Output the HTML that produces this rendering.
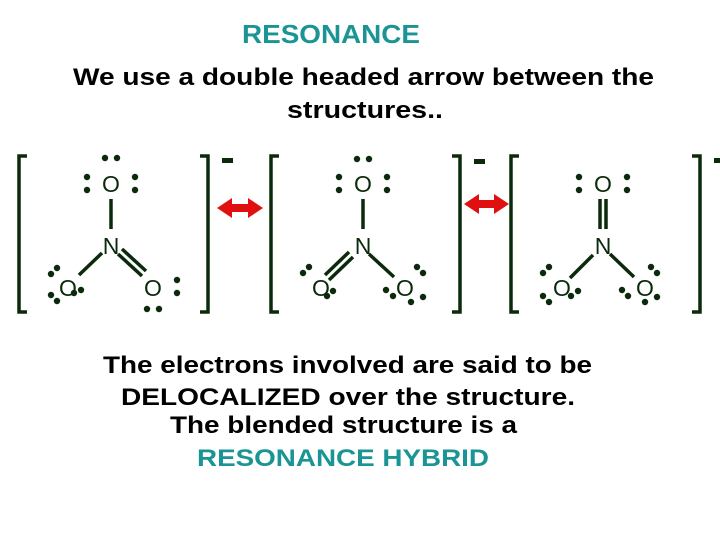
<!DOCTYPE html>
<html><head><meta charset="utf-8"><style>
html,body{margin:0;padding:0;background:#fff;}
svg{display:block;}
text{font-family:"Liberation Sans",Arial,sans-serif;}
</style></head><body>
<svg width="720" height="540" viewBox="0 0 720 540" xmlns="http://www.w3.org/2000/svg">
<text x="242" y="43" font-size="26" font-weight="bold" fill="#1a9494" textLength="178" lengthAdjust="spacingAndGlyphs">RESONANCE</text>
<text x="73" y="85" font-size="24" font-weight="bold" fill="#000" textLength="581" lengthAdjust="spacingAndGlyphs">We use a double headed arrow between the</text>
<text x="287" y="118" font-size="24" font-weight="bold" fill="#000" textLength="156" lengthAdjust="spacingAndGlyphs">structures..</text>

<g stroke="#0b2a0b" stroke-width="3.5" fill="none">
<path d="M27,156 H19 V312 H27"/><path d="M200,156 H208 V312 H200"/>
<path d="M279,156 H271 V312 H279"/><path d="M452,156 H460 V312 H452"/>
<path d="M519,156 H511 V312 H519"/><path d="M692,156 H700 V312 H692"/>
</g>
<g fill="#0b2a0b">
<rect x="222" y="158" width="11" height="5"/>
<rect x="474" y="159" width="11" height="5"/>
<rect x="714" y="158" width="6" height="5"/>
</g>
<g fill="#e01010">
<path d="M217,208 L232,198 L232,204 L248,204 L248,198 L263,208 L248,218 L248,212 L232,212 L232,218 Z"/>
<path d="M464,204 L479,194 L479,200 L494,200 L494,194 L509,204 L494,214 L494,208 L479,208 L479,214 Z"/>
</g>

<g font-size="23" fill="#0b2a0b">
<text x="111" y="192" text-anchor="middle">O</text>
<text x="111" y="254" text-anchor="middle">N</text>
<text x="68" y="296" text-anchor="middle">O</text>
<text x="153" y="296" text-anchor="middle">O</text>
<text x="363" y="192" text-anchor="middle">O</text>
<text x="363" y="254" text-anchor="middle">N</text>
<text x="321" y="296" text-anchor="middle">O</text>
<text x="405" y="296" text-anchor="middle">O</text>
<text x="603" y="192" text-anchor="middle">O</text>
<text x="603" y="254" text-anchor="middle">N</text>
<text x="562" y="296" text-anchor="middle">O</text>
<text x="645" y="296" text-anchor="middle">O</text>
</g>

<g stroke="#0b2a0b" stroke-width="3.5">
<line x1="111" y1="199" x2="111" y2="229"/>
<line x1="102" y1="253" x2="79" y2="275"/>
<line x1="122" y1="249" x2="146" y2="271"/>
<line x1="118" y1="254" x2="142" y2="276"/>
<line x1="363" y1="199" x2="363" y2="229"/>
<line x1="349" y1="252" x2="325" y2="275"/>
<line x1="353" y1="257" x2="329" y2="280"/>
<line x1="369" y1="254" x2="394" y2="277"/>
<line x1="600" y1="199" x2="600" y2="229"/>
<line x1="606" y1="199" x2="606" y2="229"/>
<line x1="593" y1="255" x2="570" y2="278"/>
<line x1="610" y1="254" x2="634" y2="277"/>
</g>

<g fill="#0b2a0b">
<circle cx="105" cy="158" r="3.2"/><circle cx="117" cy="158" r="3.2"/>
<circle cx="87" cy="177" r="3.2"/><circle cx="87" cy="190" r="3.2"/>
<circle cx="135" cy="177" r="3.2"/><circle cx="135" cy="190" r="3.2"/>
<circle cx="51" cy="274" r="3.2"/><circle cx="57" cy="268" r="3.2"/>
<circle cx="51" cy="295" r="3.2"/><circle cx="57" cy="301" r="3.2"/>
<circle cx="74" cy="293" r="3.2"/><circle cx="81" cy="290" r="3.2"/>
<circle cx="177" cy="280" r="3.2"/><circle cx="177" cy="293" r="3.2"/>
<circle cx="147" cy="309" r="3.2"/><circle cx="159" cy="309" r="3.2"/>
<circle cx="357" cy="159" r="3.2"/><circle cx="369" cy="159" r="3.2"/>
<circle cx="339" cy="177" r="3.2"/><circle cx="339" cy="190" r="3.2"/>
<circle cx="387" cy="177" r="3.2"/><circle cx="387" cy="190" r="3.2"/>
<circle cx="303" cy="273" r="3.2"/><circle cx="309" cy="267" r="3.2"/>
<circle cx="327" cy="296" r="3.2"/><circle cx="333" cy="291" r="3.2"/>
<circle cx="386" cy="290" r="3.2"/><circle cx="393" cy="296" r="3.2"/>
<circle cx="417" cy="267" r="3.2"/><circle cx="423" cy="273" r="3.2"/>
<circle cx="411" cy="302" r="3.2"/><circle cx="423" cy="297" r="3.2"/>
<circle cx="579" cy="177" r="3.2"/><circle cx="579" cy="190" r="3.2"/>
<circle cx="627" cy="177" r="3.2"/><circle cx="627" cy="190" r="3.2"/>
<circle cx="543" cy="273" r="3.2"/><circle cx="549" cy="267" r="3.2"/>
<circle cx="543" cy="296" r="3.2"/><circle cx="549" cy="302" r="3.2"/>
<circle cx="571" cy="296" r="3.2"/><circle cx="578" cy="291" r="3.2"/>
<circle cx="622" cy="290" r="3.2"/><circle cx="628" cy="296" r="3.2"/>
<circle cx="651" cy="267" r="3.2"/><circle cx="657" cy="273" r="3.2"/>
<circle cx="645" cy="302" r="3.2"/><circle cx="657" cy="297" r="3.2"/>
</g>

<text x="103" y="373" font-size="24" font-weight="bold" fill="#000" textLength="489" lengthAdjust="spacingAndGlyphs">The electrons involved are said to be</text>
<text x="121" y="405" font-size="24" font-weight="bold" fill="#000" textLength="454" lengthAdjust="spacingAndGlyphs">DELOCALIZED over the structure.</text>
<text x="170" y="433" font-size="24" font-weight="bold" fill="#000" textLength="347" lengthAdjust="spacingAndGlyphs">The blended structure is a</text>
<text x="197" y="466" font-size="24" font-weight="bold" fill="#1a9494" textLength="292" lengthAdjust="spacingAndGlyphs">RESONANCE HYBRID</text>
</svg>
</body></html>
